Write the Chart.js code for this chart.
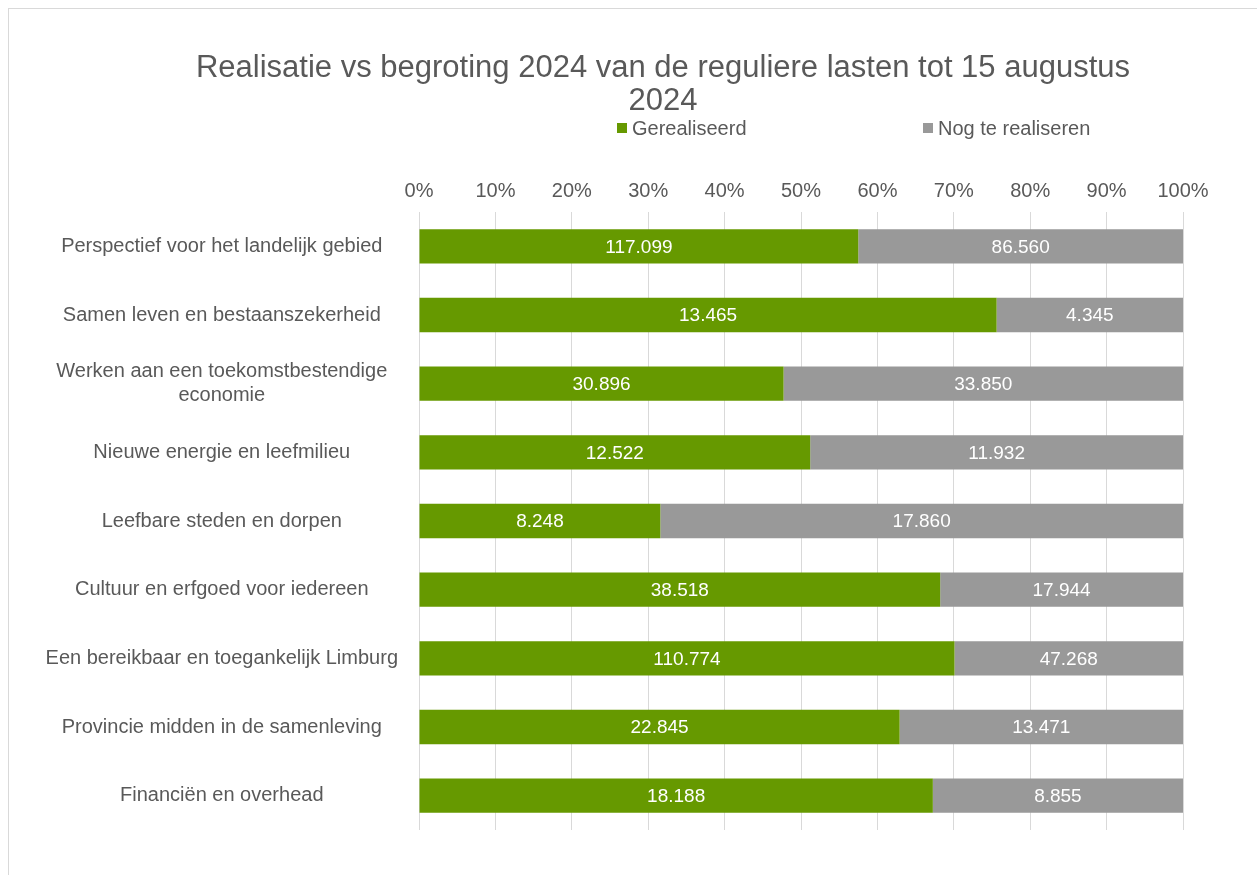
<!DOCTYPE html>
<html>
<head>
<meta charset="utf-8">
<script src="https://cdn.jsdelivr.net/npm/chart.js@4.4.1/dist/chart.umd.min.js"></script>
<style>
  html, body { margin: 0; padding: 0; background: #fff; }
  #wrap { position: relative; width: 1257px; height: 875px; overflow: hidden; }
  #frame { position: absolute; left: 8px; top: 8px; width: 1400px; height: 1000px;
           border-left: 1px solid #d9d9d9; border-top: 1px solid #d9d9d9; }
  canvas { position: absolute; left: 0; top: 0; }
</style>
</head>
<body>
<div id="wrap">
  <div id="frame"></div>
  <canvas id="barChart" width="1257" height="875"></canvas>
</div>
<script>
const categories = [
  'Perspectief voor het landelijk gebied',
  'Samen leven en bestaanszekerheid',
  ['Werken aan een toekomstbestendige', 'economie'],
  'Nieuwe energie en leefmilieu',
  'Leefbare steden en dorpen',
  'Cultuur en erfgoed voor iedereen',
  'Een bereikbaar en toegankelijk Limburg',
  'Provincie midden in de samenleving',
  'Financiën en overhead'
];
const gerealiseerd = [117099, 13465, 30896, 12522, 8248, 38518, 110774, 22845, 18188];
const nogTeRealiseren = [86560, 4345, 33850, 11932, 17860, 17944, 47268, 13471, 8855];
const percentTicks = [0, 10, 20, 30, 40, 50, 60, 70, 80, 90, 100];
const titleLines = ['Realisatie vs begroting 2024 van de reguliere lasten tot 15 augustus', '2024'];

const FONT = '"Liberation Sans", Arial, sans-serif';
const TEXT = '#595959';
const GREEN = '#669900';
const GREY = '#999999';

// aandeel per rij, zodat elke balk op 100% uitkomt
const totals = gerealiseerd.map((v, i) => v + nogTeRealiseren[i]);
const pctReal = gerealiseerd.map((v, i) => v / totals[i] * 100);
const pctNog = nogTeRealiseren.map((v, i) => v / totals[i] * 100);

function fmt(n) {
  return String(n).replace(/\B(?=(\d{3})+(?!\d))/g, '.');
}

// titel + legenda zoals in Excel
const titleLegend = {
  id: 'titleLegend',
  afterDraw(chart) {
    const ctx = chart.ctx;
    ctx.save();
    ctx.fillStyle = TEXT;
    ctx.textAlign = 'center';
    ctx.textBaseline = 'middle';
    ctx.font = '31px ' + FONT;
    ctx.fillText(titleLines[0], 663, 68);
    ctx.fillText(titleLines[1], 663, 101);

    const legendX = [617, 923];
    ctx.font = '20px ' + FONT;
    ctx.textAlign = 'left';
    chart.data.datasets.forEach((ds, i) => {
      ctx.fillStyle = ds.backgroundColor;
      ctx.fillRect(legendX[i], 123, 10, 10);
      ctx.fillStyle = TEXT;
      ctx.fillText(ds.label, legendX[i] + 15, 129);
    });
    ctx.restore();
  }
};

// absolute bedragen in de balken
const valueLabels = {
  id: 'valueLabels',
  afterDatasetsDraw(chart) {
    const ctx = chart.ctx;
    ctx.save();
    ctx.fillStyle = '#ffffff';
    ctx.font = '19px ' + FONT;
    ctx.textAlign = 'center';
    ctx.textBaseline = 'middle';
    chart.data.datasets.forEach((ds, di) => {
      chart.getDatasetMeta(di).data.forEach((bar, i) => {
        const p = bar.getCenterPoint();
        ctx.fillText(fmt(ds.raw[i]), p.x, p.y + 1);
      });
    });
    ctx.restore();
  }
};

const ctx = document.getElementById('barChart').getContext('2d');
new Chart(ctx, {
  type: 'bar',
  data: {
    labels: categories,
    datasets: [
      { label: 'Gerealiseerd', data: pctReal, raw: gerealiseerd, backgroundColor: GREEN },
      { label: 'Nog te realiseren', data: pctNog, raw: nogTeRealiseren, backgroundColor: GREY }
    ]
  },
  options: {
    indexAxis: 'y',
    responsive: false,
    animation: false,
    categoryPercentage: 1,
    barPercentage: 0.5,
    layout: { padding: { top: 152, right: 74, bottom: 45, left: 0 } },
    plugins: {
      legend: { display: false },
      title: { display: false },
      tooltip: { enabled: false }
    },
    scales: {
      x: {
        position: 'top',
        stacked: true,
        min: 0,
        max: 100,
        afterFit(scale) { scale.height = 60; },
        afterBuildTicks(scale) { scale.ticks = percentTicks.map(v => ({ value: v })); },
        ticks: {
          padding: 9,
          color: TEXT,
          font: { family: FONT, size: 20 },
          callback: v => v + '%'
        },
        grid: { color: '#d9d9d9', drawTicks: false },
        border: { display: false }
      },
      y: {
        stacked: true,
        afterFit(scale) { scale.width = 419; },
        ticks: {
          padding: 21,
          crossAlign: 'center',
          color: TEXT,
          font: { family: FONT, size: 20 }
        },
        grid: { display: false, drawTicks: false },
        border: { display: false }
      }
    }
  },
  plugins: [titleLegend, valueLabels]
});
</script>
</body>
</html>
